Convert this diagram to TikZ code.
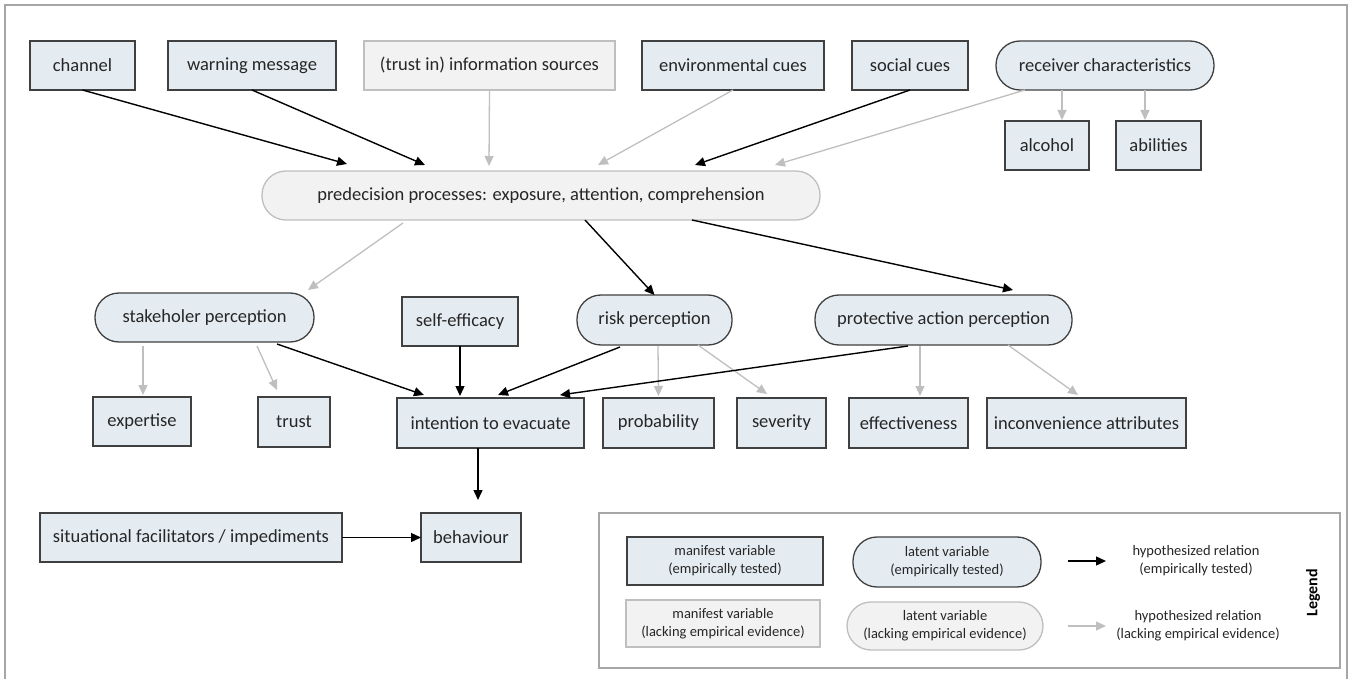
\documentclass[tikz,border=0pt]{standalone}
\usepackage{fontspec}
\setmainfont{Carlito}
\usetikzlibrary{calc,arrows.meta}
\definecolor{tfill}{HTML}{E4ECF2}
\definecolor{tdraw}{HTML}{404040}
\definecolor{lfill}{HTML}{F2F2F2}
\definecolor{ldraw}{HTML}{BFBFBF}
\definecolor{txt}{HTML}{262626}
\definecolor{framec}{HTML}{A6A6A6}
\begin{document}
\begin{tikzpicture}[x=1pt,y=-1pt,
 base/.style={inner sep=0pt, outer sep=0pt, text=txt, font=\fontsize{18.5}{21}\selectfont, line width=1.3pt, align=center},
 mtest/.style={base, rectangle, draw=tdraw, fill=tfill},
 mlack/.style={base, rectangle, draw=ldraw, fill=lfill},
 ltest/.style={base, rectangle, rounded corners=24pt, draw=tdraw, fill=tfill},
 llack/.style={base, rectangle, rounded corners=24pt, draw=ldraw, fill=lfill},
 sz/.style 2 args={minimum width=#1pt, minimum height=#2pt},
 small/.style={font=\fontsize{14.5}{18}\selectfont},
 blk/.style={line width=1.4pt, draw=black, -{Triangle[length=10pt,width=9pt]}},
 gry/.style={line width=1.3pt, draw=ldraw, -{Triangle[length=10pt,width=9pt]}},
 legtxt/.style={inner sep=0pt, text=txt, align=center, font=\fontsize{14.5}{18}\selectfont}]
\useasboundingbox (0,0) rectangle (1350,679);
\draw[framec, line width=1.5pt] (5,679) -- (5,5) -- (1347,5) -- (1347,679);

% top row
\node[mtest, sz={105}{49}] (chan) at (82.5,65.5) {channel};
\node[mtest, sz={168}{49}] (warn) at (252,65.5) {warning message};
\node[mlack, sz={251}{49}] (info) at (489.5,65.5) {(trust in) information sources};
\node[mtest, sz={182}{49}] (env) at (733,65.5) {environmental cues};
\node[mtest, sz={116}{49}] (soc) at (910,65.5) {social cues};
\node[ltest, sz={218}{49}] (recv) at (1105,65.5) {receiver characteristics};
\node[mtest, sz={84}{49}] (alc) at (1047,145.5) {alcohol};
\node[mtest, sz={85}{49}] (abil) at (1158.5,145.5) {abilities};

\node[llack, sz={558}{49}] (pre) at (541,195.5) {predecision processes: exposure, attention, comprehension};

% second row
\node[ltest, sz={219}{49}] (stake) at (204.5,317.5) {stakeholer perception};
\node[mtest, sz={116}{49}] (self) at (460,321.5) {self-efficacy};
\node[ltest, sz={155}{50}] (risk) at (654.5,320) {risk perception};
\node[ltest, sz={257}{50}] (prot) at (943.5,320) {protective action perception};

% third row
\node[mtest, sz={98}{49}] (exp) at (142,421.5) {expertise};
\node[mtest, sz={72}{50}] (trust) at (294,422) {trust};
\node[mtest, sz={187}{50}] (int) at (490.5,423) {intention to evacuate};
\node[mtest, sz={111}{50}] (prob) at (658.5,423) {probability};
\node[mtest, sz={89}{50}] (sev) at (781.5,423) {severity};
\node[mtest, sz={119}{50}] (eff) at (908.5,423) {effectiveness};
\node[mtest, sz={199}{50}] (inc) at (1086.5,423) {inconvenience attributes};

% fourth row
\node[mtest, sz={302}{49}] (sit) at (191,537.5) {situational facilitators / impediments};
\node[mtest, sz={100}{49}] (beh) at (471,537.5) {behaviour};

% arrows into predecision
\draw[blk] (chan.south) -- ($(pre.north)+(-194,-7)$);
\draw[blk] (warn.south) -- ($(pre.north)+(-116,-6)$);
\draw[gry] (info.south) -- ($(pre.north)+(-52,-5)$);
\draw[gry] (env.south) -- ($(pre.north)+(57,-6)$);
\draw[blk] (soc.south) -- ($(pre.north)+(154,-6)$);
\draw[gry] ($(recv.south west)+(29,0)$) -- ($(pre.north)+(234,-6)$);
\draw[gry] ($(recv.south west)+(66,0)$) -- ($(alc.north west)+(57,-1)$);
\draw[gry] ($(recv.south west)+(149,0)$) -- ($(abil.north west)+(29,-1)$);

% out of predecision
\draw[gry] ($(pre.south west)+(141,3)$) -- ($(stake.north east)+(-6,-3)$);
\draw[blk] ($(pre.south)+(44,0)$) -- (risk.north);
\draw[blk] ($(pre.south)+(151,0)$) -- ($(prot.north)+(69.5,-5)$);

% stakeholder
\draw[gry] ($(stake.south west)+(48,4)$) -- ($(exp.north west)+(50,-2)$);
\draw[gry] ($(stake.south west)+(162,4)$) -- ($(trust.north west)+(19,-7)$);
\draw[blk] ($(stake.south west)+(182,2)$) -- ($(int.north west)+(27,-3)$);
% self-efficacy
\draw[blk] (self.south) -- ($(int.north west)+(63,-2)$);
% risk
\draw[blk] ($(risk.south west)+(43,2)$) -- ($(int.north west)+(101,-3)$);
\draw[gry] ($(risk.south west)+(81,1)$) -- ($(prob.north)+(0,-2)$);
\draw[gry] ($(risk.south west)+(121,0)$) -- ($(sev.north west)+(30,-4)$);
% protective
\draw[blk] ($(prot.south west)+(93,1)$) -- ($(int.north west)+(163,-3)$);
\draw[gry] ($(prot.south west)+(105,1)$) -- ($(eff.north west)+(71,-2)$);
\draw[gry] ($(prot.south west)+(193,0)$) -- ($(inc.north west)+(91,-3)$);
% behaviour
\draw[blk] ($(int.south west)+(81,0)$) -- ($(beh.north west)+(57,-13)$);
\draw[blk] (sit.east) -- (beh.west);

% legend
\node[draw=framec, line width=1.3pt, minimum width=741pt, minimum height=155pt, inner sep=0pt] (leg) at (969.5,590.5) {};
\node[mtest, small, sz={196}{48}] (lmt) at (725,561) {manifest variable\\(empirically tested)};
\node[ltest, small, sz={188}{50}] (llt) at (947,562) {latent variable\\(empirically tested)};
\node[mlack, small, sz={194}{47}] (lml) at (723,623.5) {manifest variable\\(lacking empirical evidence)};
\node[llack, small, sz={196}{48}] (lll) at (945,626) {latent variable\\(lacking empirical evidence)};
\coordinate (a1s) at (1068,561);
\coordinate (a1e) at (1106,561);
\coordinate (a2s) at (1068,626);
\coordinate (a2e) at (1106,626);
\draw[blk] (a1s) -- (a1e);
\draw[gry] (a2s) -- (a2e);
\node[legtxt] (ht) at (1196,561) {hypothesized relation\\(empirically tested)};
\node[legtxt] (hl) at (1198,626) {hypothesized relation\\(lacking empirical evidence)};
\node[inner sep=0pt, rotate=90, font=\bfseries\fontsize{16}{18}\selectfont] (legword) at (1313,593) {Legend};
\end{tikzpicture}
\end{document}
